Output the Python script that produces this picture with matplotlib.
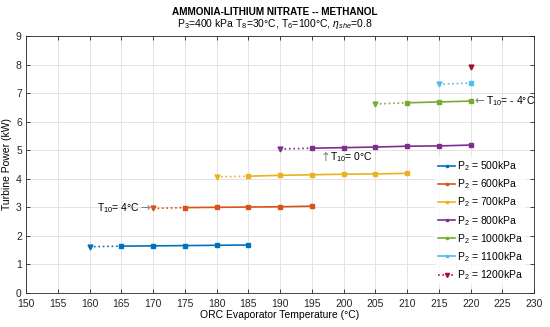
import matplotlib
matplotlib.use("Agg")
import matplotlib.pyplot as plt
from matplotlib.lines import Line2D

plt.rcParams['font.family'] = ['Liberation Sans', 'DejaVu Sans']
plt.rcParams['font.size'] = 7.5
plt.rcParams['mathtext.fontset'] = 'custom'
plt.rcParams['mathtext.rm'] = 'Liberation Sans'
plt.rcParams['mathtext.it'] = 'Liberation Sans:italic'

# evaporator temperatures (°C) and turbine power (kW) for each P2
labels = ['500kPa', '600kPa', '700kPa', '800kPa', '1000kPa', '1100kPa', '1200kPa']
temps = [
    [160, 165, 170, 175, 180, 185],
    [170, 175, 180, 185, 190, 195],
    [180, 185, 190, 195, 200, 205, 210],
    [190, 195, 200, 205, 210, 215, 220],
    [205, 210, 215, 220],
    [215, 220],
    [220],
]
power = [
    [1.62, 1.64, 1.65, 1.66, 1.67, 1.68],
    [2.96, 2.99, 3.00, 3.01, 3.02, 3.04],
    [4.07, 4.09, 4.12, 4.14, 4.16, 4.17, 4.19],
    [5.04, 5.07, 5.09, 5.11, 5.14, 5.15, 5.18],
    [6.62, 6.66, 6.69, 6.72],
    [7.31, 7.35],
    [7.91],
]
colors = ['#0072BD', '#D95319', '#EDB120', '#7E2F8E', '#77AC30', '#4DBEEE', '#A2142F']

fig = plt.figure(figsize=(5.5, 3.27), dpi=100)
ax = fig.add_axes([0.0473, 0.104, 0.924, 0.786])

handles = []
for t, p, c, lab in zip(temps, power, colors, labels):
    # first point (T10 limit) drawn dotted with a triangle
    ax.plot(t[:2], p[:2], ':', color=c, lw=1.2)
    ax.plot(t[0], p[0], 'v', color=c, ms=3.5)
    if len(t) > 1:
        ax.plot(t[1:], p[1:], '-s', color=c, lw=1.2, ms=3)
        handles.append(Line2D([], [], color=c, lw=1.2, marker='s', ms=2))
    else:
        handles.append(Line2D([], [], color=c, lw=1.2, ls=':', marker='v', ms=3))

ax.set_xlim(150, 230)
ax.set_ylim(0, 9)
ax.set_xticks(range(150, 231, 5))
ax.set_yticks(range(0, 10))
ax.grid(True, color='#e3e3e3', lw=0.7)
ax.set_axisbelow(True)
ax.tick_params(direction='in', top=True, right=True, length=3, width=0.6,
               colors='#262626', labelsize=7.5, pad=3)
ax.tick_params(axis='x', pad=4)
for s in ax.spines.values():
    s.set_color('#262626')
    s.set_linewidth(0.6)

ax.set_xlabel('ORC Evaporator Temperature (°C)', fontsize=7.5, labelpad=1)
ax.set_ylabel('Turbine Power (kW)', fontsize=7.5, labelpad=3)

fig.text(0.5, 0.964, 'AMMONIA-LITHIUM NITRATE -- METHANOL', ha='center', va='center',
         fontsize=7.2, fontweight='bold')
fig.text(0.5, 0.926, r'P$_3$=400 kPa T$_8$=30°C, T$_6$=100°C, $\eta_{she}$=0.8',
         ha='center', va='center', fontsize=7.5)

# T10 annotations: grey arrows, dark text
gray = '#808080'
arrow_font = 'DejaVu Sans'
ax.text(169.6, 2.98, '→', ha='right', va='center', fontsize=8.5, color=gray, family=arrow_font)
ax.text(167.9, 2.98, r'T$_{10}$= 4°C', ha='right', va='center', fontsize=7.5)
ax.text(196.4, 4.76, '↑', ha='left', va='center', fontsize=8.5, color=gray, family=arrow_font)
ax.text(197.9, 4.75, r'T$_{10}$= 0°C', ha='left', va='center', fontsize=7.5)
ax.text(220.6, 6.74, '←', ha='left', va='center', fontsize=8.5, color=gray, family=arrow_font)
ax.text(222.4, 6.72, r'T$_{10}$= - 4°C', ha='left', va='center', fontsize=7.5)

leg = ax.legend(handles, ['P$_2$ = ' + l for l in labels], loc='lower right',
                bbox_to_anchor=(0.995, 0.01), frameon=True, fontsize=7.5,
                handlelength=1.6, handletextpad=0.2, labelspacing=0.42,
                borderpad=0.3, fancybox=False)
leg.get_frame().set_edgecolor('white')
leg.get_frame().set_linewidth(0)

fig.savefig('out.png', dpi=100)
